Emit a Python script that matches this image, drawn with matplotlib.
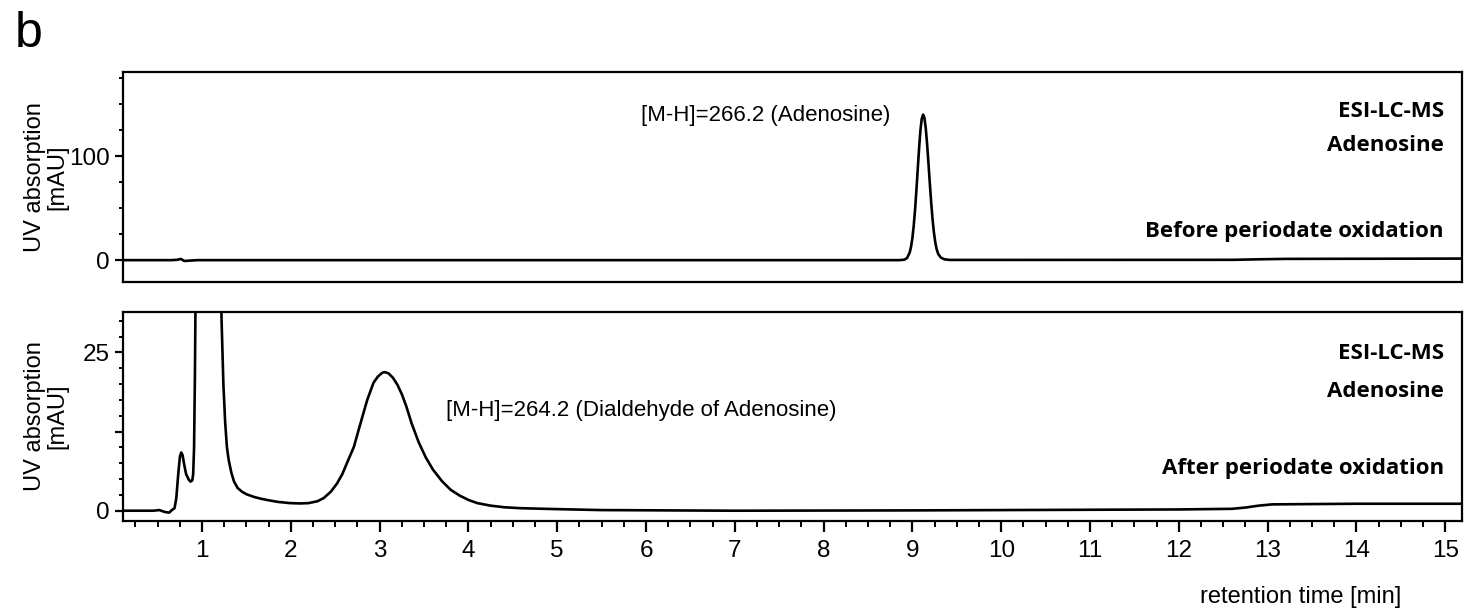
import matplotlib
matplotlib.use("Agg")
import matplotlib.pyplot as plt
from matplotlib.ticker import MultipleLocator, FixedLocator

plt.rcParams['font.family'] = ['Liberation Sans', 'DejaVu Sans']

# before periodate oxidation (retention time [min], UV absorption [mAU])
t_before = [0.10, 0.65, 0.72, 0.76, 0.80, 0.85, 0.95, 3.0, 6.0, 8.85,
            8.91, 8.94, 8.97, 8.985, 9.00, 9.015, 9.03, 9.045, 9.06, 9.075,
            9.09, 9.105, 9.12, 9.135, 9.15, 9.165, 9.18, 9.195, 9.21, 9.225,
            9.24, 9.255, 9.27, 9.29, 9.32, 9.36, 9.42, 10.0, 12.6, 12.9,
            13.2, 15.2]
y_before = [0.0, 0.0, 0.3, 1.2, -0.8, -0.5, 0.0, 0.0, 0.0, 0.0,
            0.45, 2.1, 7.5, 13.1, 21.5, 33.4, 48.8, 67.4, 87.6, 107.6,
            124.6, 136.0, 140.0, 137.0, 127.0, 112.0, 94.0, 75.0, 57.0, 41.0,
            28.0, 18.5, 11.5, 6.0, 2.5, 0.8, 0.2, 0.2, 0.3, 0.8,
            1.2, 1.5]

# after periodate oxidation
t_after = [0.10, 0.45, 0.52, 0.58, 0.63, 0.66, 0.69, 0.71, 0.73, 0.75,
           0.765, 0.78, 0.80, 0.82, 0.85, 0.87, 0.89, 0.90, 0.91, 0.92,
           0.93, 1.00, 1.10, 1.17, 1.20, 1.22, 1.24, 1.26, 1.28, 1.30,
           1.33, 1.36, 1.40, 1.45, 1.50, 1.58, 1.66, 1.75, 1.85, 1.99,
           2.10, 2.20, 2.30, 2.37, 2.45, 2.52, 2.58, 2.64, 2.71, 2.78,
           2.86, 2.93, 2.98, 3.03, 3.06, 3.10, 3.15, 3.20, 3.25, 3.30,
           3.36, 3.44, 3.52, 3.60, 3.70, 3.80, 3.90, 4.00, 4.10, 4.25,
           4.40, 4.58, 5.00, 5.50, 7.00, 9.00, 10.0, 11.0, 12.0, 12.6,
           12.75, 12.9, 13.05, 13.5, 14.0, 15.0, 15.2]
y_after = [0.0, 0.0, 0.1, -0.2, -0.3, 0.1, 0.4, 2.0, 5.5, 8.5,
           9.2, 8.8, 7.2, 5.8, 4.9, 4.6, 4.8, 5.8, 10.0, 22.0,
           40.0, 80.0, 70.0, 55.0, 42.0, 30.0, 20.0, 14.0, 10.0, 8.0,
           6.0, 4.6, 3.6, 3.0, 2.6, 2.2, 1.9, 1.65, 1.4, 1.2,
           1.15, 1.2, 1.5, 2.0, 3.0, 4.3, 5.8, 7.8, 10.1, 13.6,
           17.5, 20.2, 21.2, 21.8, 21.9, 21.7, 21.0, 19.9, 18.4, 16.5,
           13.8, 10.8, 8.4, 6.5, 4.7, 3.3, 2.4, 1.7, 1.2, 0.8,
           0.55, 0.4, 0.25, 0.1, 0.0, 0.05, 0.1, 0.15, 0.2, 0.3,
           0.5, 0.8, 1.0, 1.05, 1.1, 1.1, 1.1]

x_major = list(range(1, 16))
labels = ["ESI-LC-MS", "Adenosine"]

fig = plt.figure(figsize=(14.7, 6.15), dpi=100)
ax1 = fig.add_axes([0.0837, 0.5415, 0.9109, 0.3415])
ax2 = fig.add_axes([0.0837, 0.1528, 0.9109, 0.3399])

for ax in (ax1, ax2):
    ax.set_xlim(0.11, 15.19)
    for s in ax.spines.values():
        s.set_linewidth(1.6)
    ax.tick_params(axis='both', which='major', length=6, width=1.6, labelsize=17.5, direction='out')
    ax.tick_params(axis='both', which='minor', length=3, width=1.4, direction='out')

ax1.plot(t_before, y_before, color='black', lw=1.9)
ax1.set_ylim(-21, 181)
ax1.yaxis.set_major_locator(FixedLocator([0, 100]))
ax1.yaxis.set_minor_locator(MultipleLocator(25))
ax1.tick_params(axis='x', which='both', bottom=False, labelbottom=False)

ax2.plot(t_after, y_after, color='black', lw=1.9)
ax2.set_ylim(-1.63, 31.4)
ax2.yaxis.set_major_locator(FixedLocator([0, 12.5, 25]))
ax2.set_yticklabels(['0', '', '25'])
ax2.yaxis.set_minor_locator(MultipleLocator(2.5))
ax2.xaxis.set_major_locator(FixedLocator(x_major))
ax2.xaxis.set_minor_locator(MultipleLocator(0.25))
ax2.tick_params(axis='x', which='major', length=8, pad=6)
ax2.tick_params(axis='x', which='minor', length=4)

for ax in (ax1, ax2):
    ax.set_ylabel("UV absorption\n[mAU]", fontsize=17, linespacing=1.0)
    ax.yaxis.set_label_coords(-0.041, 0.5)

bold = dict(fontsize=16, fontweight='bold', family=['Open Sans', 'DejaVu Sans'],
            ha='right', va='center')
ax1.text(0.9865, 0.81, labels[0], transform=ax1.transAxes, **bold)
ax1.text(0.9865, 0.65, labels[1], transform=ax1.transAxes, **bold)
ax1.text(0.9865, 0.24, "Before periodate oxidation", transform=ax1.transAxes, **bold)
ax2.text(0.9865, 0.80, labels[0], transform=ax2.transAxes, **bold)
ax2.text(0.9865, 0.62, labels[1], transform=ax2.transAxes, **bold)
ax2.text(0.9865, 0.25, "After periodate oxidation", transform=ax2.transAxes, **bold)

ax1.text(5.94, 139, "[M-H]=266.2 (Adenosine)", fontsize=16, va='center')
ax2.text(3.75, 15.9, "[M-H]=264.2 (Dialdehyde of Adenosine)", fontsize=16, va='center')

fig.text(0.885, 0.029, "retention time [min]", fontsize=17, ha='center', va='center')
fig.text(0.010, 0.945, "b", fontsize=36, va='center')

fig.savefig("out.png", dpi=100)
